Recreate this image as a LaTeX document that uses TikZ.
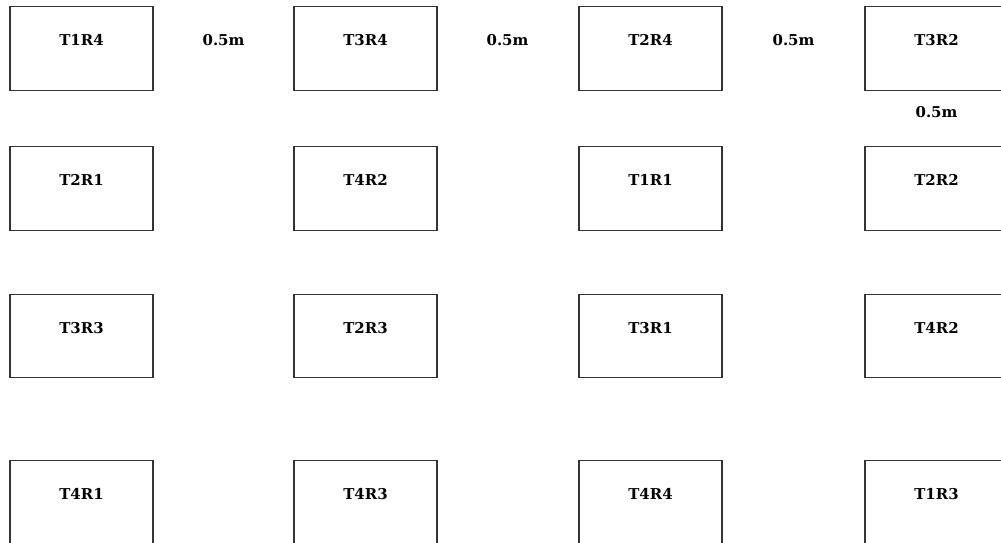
\documentclass[tikz,border=0pt]{standalone}
\usepackage{fontspec}
\setmainfont{DejaVu Serif}
\usepackage{tikz}

\tikzset{
  plot/.style={draw=black!80, line width=0.8pt, rectangle, inner sep=0pt,
    minimum width=2.86cm, text height=0.78cm, text depth=0.89cm,
    font=\fontsize{8.5}{10}\selectfont\bfseries},
  gap/.style={font=\fontsize{8.5}{10}\selectfont\bfseries, inner sep=0pt}
}

\begin{document}
\begin{tikzpicture}
    \useasboundingbox (0,0) rectangle (20.02,-10.86);
    \clip (0,0) rectangle (20.02,-10.86);

    % plots, column by column
    \foreach \c/\x in {1/1.63,2/7.31,3/13.01,4/18.73} {
        \foreach \r/\y in {1/-0.97,2/-3.77,3/-6.72,4/-10.05} {
            \coordinate (c\c\r) at (\x,\y);
          }
      }
    \foreach \c/\r/\t in {1/1/T1R4,2/1/T3R4,3/1/T2R4,4/1/T3R2,
                          1/2/T2R1,2/2/T4R2,3/2/T1R1,4/2/T2R2,
                          1/3/T3R3,2/3/T2R3,3/3/T3R1,4/3/T4R2,
                          1/4/T4R1,2/4/T4R3,3/4/T4R4,4/4/T1R3} {
        \node[plot] (p\c\r) at (c\c\r) {\t};
      }

    % spacing between plots
    \node[gap] (g12) at (4.47,-0.81) {0.5m};
    \node[gap] (g23) at (10.15,-0.81) {0.5m};
    \node[gap] (g34) at (15.87,-0.81) {0.5m};
    \node[gap] (g41) at (18.73,-2.24) {0.5m};
\end{tikzpicture}
\end{document}
